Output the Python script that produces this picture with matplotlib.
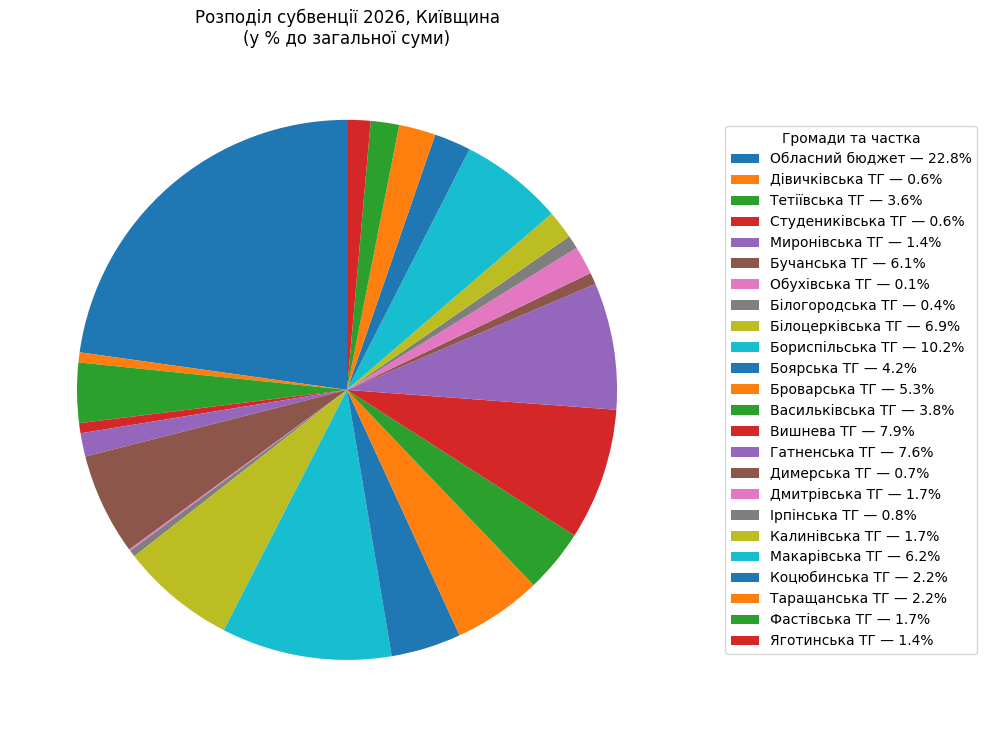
import matplotlib.pyplot as plt

# частки громад у субвенції 2026 (%)
names = ['Обласний бюджет', 'Дівичківська ТГ', 'Тетіївська ТГ', 'Студениківська ТГ',
         'Миронівська ТГ', 'Бучанська ТГ', 'Обухівська ТГ', 'Білогородська ТГ',
         'Білоцерківська ТГ', 'Бориспільська ТГ', 'Боярська ТГ', 'Броварська ТГ',
         'Васильківська ТГ', 'Вишнева ТГ', 'Гатненська ТГ', 'Димерська ТГ',
         'Дмитрівська ТГ', 'Ірпінська ТГ', 'Калинівська ТГ', 'Макарівська ТГ',
         'Коцюбинська ТГ', 'Таращанська ТГ', 'Фастівська ТГ', 'Яготинська ТГ']
shares = [22.8, 0.6, 3.6, 0.6, 1.4, 6.1, 0.1, 0.4, 6.9, 10.2, 4.2, 5.3,
          3.8, 7.9, 7.6, 0.7, 1.7, 0.8, 1.7, 6.2, 2.2, 2.2, 1.7, 1.4]

fig = plt.figure(figsize=(9.87, 7.38), dpi=100)
ax = fig.add_axes([0.0096, 0.0142, 0.684, 0.915])

# pie сам ставить aspect equal і межі ±1.25
wedges, _ = ax.pie(shares, startangle=90)
ax.set_title('Розподіл субвенції 2026, Київщина\n(у % до загальної суми)')

labels = ['%s — %.1f%%' % (n, s) for n, s in zip(names, shares)]
ax.legend(wedges, labels, title='Громади та частка',
          loc='center left', bbox_to_anchor=(1.05, 0.5))

fig.savefig('out.png', dpi=100)
